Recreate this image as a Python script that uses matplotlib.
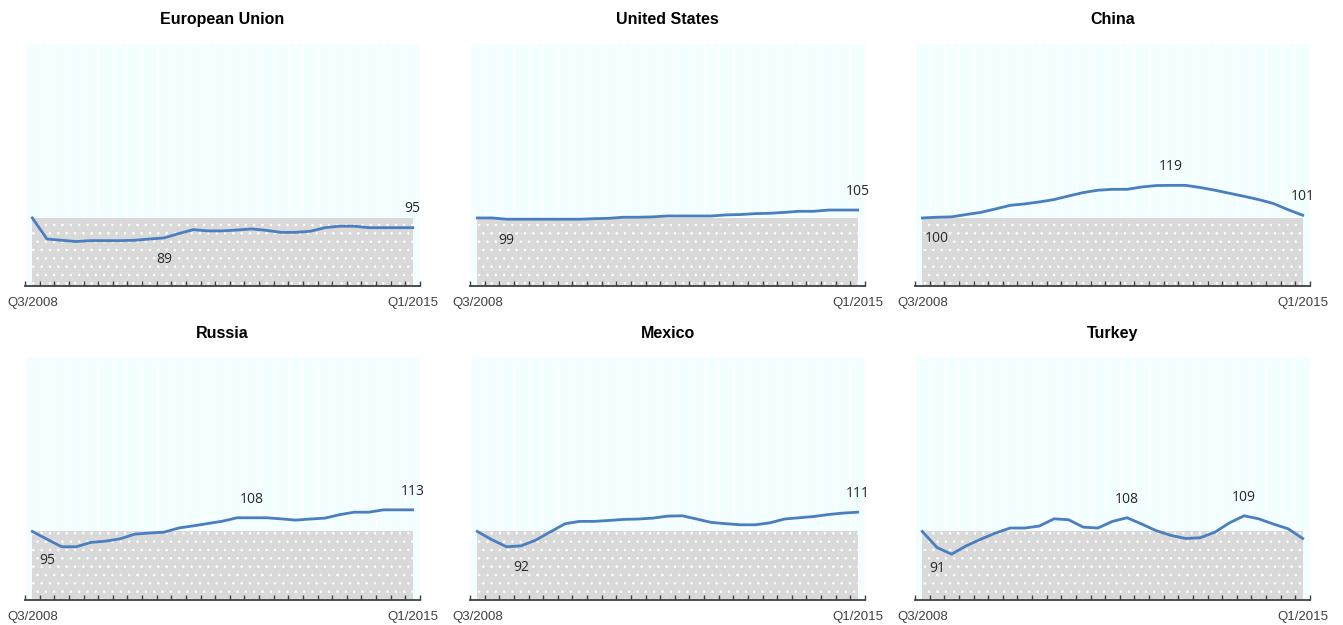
import numpy as np
import matplotlib.pyplot as plt

# quarters from Q3/2008 to Q1/2015, index 100 = Q3/2008
n_quarters = 27
first_label = 'Q3/2008'
last_label = 'Q1/2015'
base = 100

titles = ['European Union', 'United States', 'China', 'Russia', 'Mexico', 'Turkey']

eu = [100, 88.3, 87.6, 86.9, 87.4, 87.4, 87.4, 87.6, 88.3, 88.9, 91.3, 93.5, 92.8, 92.8,
      93.3, 93.9, 93.1, 92.0, 92.0, 92.6, 94.6, 95.4, 95.4, 94.6, 94.6, 94.6, 94.6]
us = [100, 100, 99.3, 99.3, 99.3, 99.3, 99.3, 99.3, 99.6, 99.8, 100.4, 100.4, 100.6, 101.1,
      101.1, 101.1, 101.1, 101.7, 101.9, 102.4, 102.6, 103.1, 103.7, 103.7, 104.4, 104.4, 104.4]
china = [100, 100.4, 100.6, 101.9, 103.1, 105.0, 107.0, 107.8, 108.9, 110.2, 112.2, 114.1, 115.4, 115.9,
         115.9, 117.2, 118.0, 118.1, 118.1, 116.9, 115.4, 113.7, 112.0, 110.2, 108.0, 104.6, 101.5]
russia = [100, 95.7, 91.5, 91.5, 93.9, 94.6, 95.9, 98.5, 99.1, 99.6, 101.9, 103.1, 104.4, 105.7,
          107.6, 107.6, 107.6, 107.0, 106.3, 106.9, 107.4, 109.3, 110.7, 110.7, 112.0, 112.0, 112.0]
mexico = [100, 95.4, 91.5, 92.0, 95.2, 99.8, 104.3, 105.6, 105.6, 106.1, 106.7, 106.9, 107.4, 108.5,
          108.7, 106.9, 105.0, 104.3, 103.7, 103.7, 104.8, 106.9, 107.6, 108.3, 109.4, 110.2, 110.7]
turkey = [100, 91.1, 87.4, 92.0, 95.7, 99.1, 101.9, 101.9, 103.0, 107.0, 106.5, 102.4, 101.9, 105.6,
          107.6, 104.1, 100.4, 97.8, 96.1, 96.5, 99.6, 104.8, 108.7, 107.0, 104.1, 101.5, 96.1]
series = [eu, us, china, russia, mexico, turkey]

# value labels: (quarter index, shown value, +1 above / -1 below)
point_labels = [
    [(9, 89, -1), (26, 95, 1)],
    [(2, 99, -1), (26, 105, 1)],
    [(1, 100, -1), (17, 119, 1), (26, 101, 1)],
    [(1, 95, -1), (15, 108, 1), (26, 113, 1)],
    [(3, 92, -1), (26, 111, 1)],
    [(1, 91, -1), (14, 108, 1), (22, 109, 1)],
]

ymin, ymax = 62.2, 196.9
line_color = '#4a7ebf'
bg_color = '#f2feff'
area_color = '#d9d9d9'
axis_color = '#404040'

plt.rcParams['hatch.color'] = 'white'
plt.rcParams['hatch.linewidth'] = 0.6

fig = plt.figure(figsize=(13.43, 6.25), dpi=100)

lefts = [25, 470, 915]
tops = [43.5, 357]
w, h = 395, 242.5
W, H = 1343, 625

x = np.arange(n_quarters)
tick_pos = np.arange(-0.5, n_quarters, 1)

for k in range(6):
    row, col = divmod(k, 3)
    ax = fig.add_axes([lefts[col] / W, 1 - (tops[row] + h) / H, w / W, h / H])
    ax.set_facecolor(bg_color)
    ax.set_xlim(-0.5, n_quarters - 0.5)
    ax.set_ylim(ymin, ymax)

    # faint white lines at the tick marks, under everything
    ax.vlines(tick_pos, ymin, ymax, color='white', lw=1, zorder=1)

    # grey dotted block under the base value
    ax.fill_between([0, n_quarters - 1], ymin, base, facecolor=area_color,
                    edgecolor='white', linewidth=0, hatch='..', zorder=2)
    ax.plot(x, series[k], color=line_color, lw=2, zorder=3, solid_joinstyle='round')

    for i, v, side in point_labels[k]:
        off = 13.5 if side > 0 else -15.5
        ax.annotate(str(v), (i, series[k][i]), xytext=(0, off), textcoords='offset points',
                    ha='center', va='center', fontsize=10, color='#262626',
                    family=['Open Sans', 'DejaVu Sans'], zorder=4)

    for s in ['top', 'left', 'right']:
        ax.spines[s].set_visible(False)
    ax.spines['bottom'].set_color(axis_color)
    ax.spines['bottom'].set_linewidth(1.3)
    ax.set_yticks([])

    ax.set_xticks(tick_pos)
    ax.set_xticklabels([])
    ax.tick_params(axis='x', which='major', direction='in', length=3.5, width=1, color=axis_color)
    ax.set_xticks([0, n_quarters - 1], [first_label, last_label], minor=True)
    ax.tick_params(axis='x', which='minor', length=0, pad=8, labelsize=9.5, labelcolor=axis_color)
    for t in ax.get_xticklabels(minor=True):
        t.set_family('Liberation Sans')
    ax.set_axisbelow(False)

    ax.set_title(titles[k], fontsize=11.5, fontweight='bold', pad=14, family='Liberation Sans')

plt.savefig('out.png', dpi=100)
